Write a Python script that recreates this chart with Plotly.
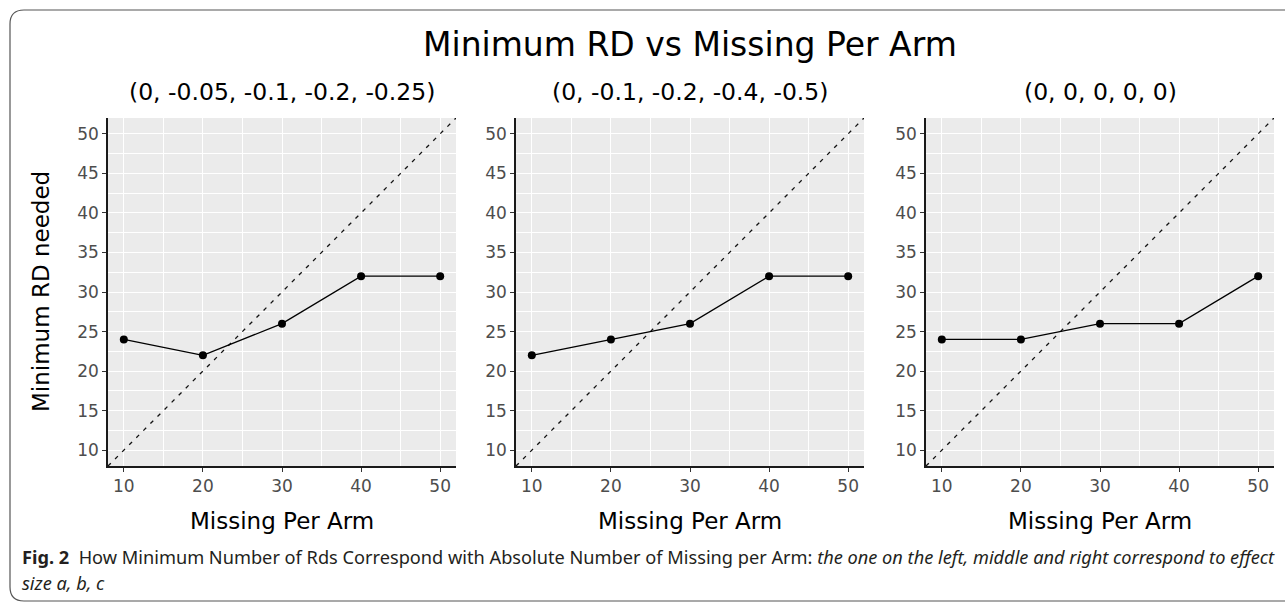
import plotly.graph_objects as go

W, H = 1285, 603

missing = [10, 20, 30, 40, 50]
panel_titles = ["(0, -0.05, -0.1, -0.2, -0.25)", "(0, -0.1, -0.2, -0.4, -0.5)", "(0, 0, 0, 0, 0)"]
rd_a = [24, 22, 26, 32, 32]
rd_b = [22, 24, 26, 32, 32]
rd_c = [24, 24, 26, 26, 32]
series = [rd_a, rd_b, rd_c]
axis_range = [8, 52]
tick_x = [10, 20, 30, 40, 50]
tick_y = [10, 15, 20, 25, 30, 35, 40, 45, 50]

main_title = "Minimum RD vs Missing Per Arm"
x_title = "Missing Per Arm"
y_title = "Minimum RD needed"
caption_1 = ("<b>Fig. 2</b>  How Minimum Number of Rds Correspond with Absolute Number of Missing per Arm: "
             "<i>the one on the left, middle and right correspond to effect</i>")
caption_2 = "<i>size a, b, c</i>"

FONT = "DejaVu Sans, Liberation Sans, sans-serif"
px = lambda v: v / W
py = lambda v: 1 - v / H

x_domains = [(108, 456), (516, 864), (926, 1274)]
y_dom = [py(466), py(118)]

fig = go.Figure()
for i, (ys, (x0, x1)) in enumerate(zip(series, x_domains)):
    n = "" if i == 0 else str(i + 1)
    xa, ya = "x" + n, "y" + n
    # identity reference line
    fig.add_trace(go.Scatter(x=axis_range, y=axis_range, mode="lines", xaxis=xa, yaxis=ya,
                             line=dict(color="#111111", width=1.3, dash="4px,6px"),
                             showlegend=False, hoverinfo="skip"))
    fig.add_trace(go.Scatter(x=missing, y=ys, mode="lines+markers", xaxis=xa, yaxis=ya,
                             line=dict(color="black", width=1.3),
                             marker=dict(color="black", size=8),
                             showlegend=False))
    common = dict(range=axis_range, showline=True, linecolor="#1a1a1a", linewidth=1.5,
                  ticks="outside", ticklen=4, tickwidth=1.2, tickcolor="#333333",
                  tickfont=dict(family=FONT, size=17, color="#4d4d4d"),
                  showgrid=True, gridcolor="white", gridwidth=1.4, zeroline=False)
    fig.layout["xaxis" + n] = dict(common, domain=[px(x0), px(x1)], anchor=ya,
                                    tickvals=tick_x,
                                    minor=dict(dtick=5, tick0=5, showgrid=True, gridcolor="white", gridwidth=0.7, ticks=""))
    fig.layout["yaxis" + n] = dict(common, domain=y_dom, anchor=xa,
                                    tickvals=tick_y,
                                    minor=dict(dtick=2.5, tick0=7.5, showgrid=True, gridcolor="white", gridwidth=0.7, ticks=""))
    cx = (x0 + x1) / 2
    fig.add_annotation(x=px(cx), y=py(92), xref="paper", yref="paper", text=panel_titles[i],
                       xanchor="center", yanchor="middle",
                       showarrow=False, font=dict(family=FONT, size=23.5, color="black"))
    fig.add_annotation(x=px(cx), y=py(521), xref="paper", yref="paper", text=x_title,
                       xanchor="center", yanchor="middle",
                       showarrow=False, font=dict(family=FONT, size=23, color="black"))

fig.add_annotation(x=px(690), y=py(45), xref="paper", yref="paper", text=main_title,
                   xanchor="center", yanchor="middle",
                   showarrow=False, font=dict(family=FONT, size=33, color="black"))
fig.add_annotation(x=px(41), y=py(292), xref="paper", yref="paper", text=y_title, textangle=-90,
                   xanchor="center", yanchor="middle",
                   showarrow=False, font=dict(family=FONT, size=23, color="black"))
for txt, yy in [(caption_1, 557), (caption_2, 583)]:
    fig.add_annotation(x=px(20), y=py(yy), xref="paper", yref="paper", text=txt,
                       xanchor="left", yanchor="middle", align="left", showarrow=False,
                       font=dict(family="Noto Sans, sans-serif", size=18.2, color="#231f20"))

# rounded frame
r = 14
x0f, y0f, x1f, y1f = 10, 10, 1300, 601
path = (f"M {px(x1f)} {py(y1f)} L {px(x0f + r)} {py(y1f)} "
        f"Q {px(x0f)} {py(y1f)} {px(x0f)} {py(y1f - r)} "
        f"L {px(x0f)} {py(y0f + r)} "
        f"Q {px(x0f)} {py(y0f)} {px(x0f + r)} {py(y0f)} L {px(x1f)} {py(y0f)}")
fig.add_shape(type="path", path=path, xref="paper", yref="paper",
              line=dict(color="#555555", width=1.2))

for i in range(3):
    x0, x1 = x_domains[i]
    fig.add_shape(type="rect", xref="paper", yref="paper", x0=px(x0), x1=px(x1), y0=y_dom[0], y1=y_dom[1],
                  fillcolor="#ebebeb", line=dict(width=0), layer="below")

fig.update_layout(width=W, height=H, margin=dict(l=0, r=0, t=0, b=0),
                  paper_bgcolor="white", plot_bgcolor="rgba(0,0,0,0)")
fig.write_html("out.html", config={"displayModeBar": False},
               post_script="document.body.style.margin='0';document.body.style.overflow='hidden';")
